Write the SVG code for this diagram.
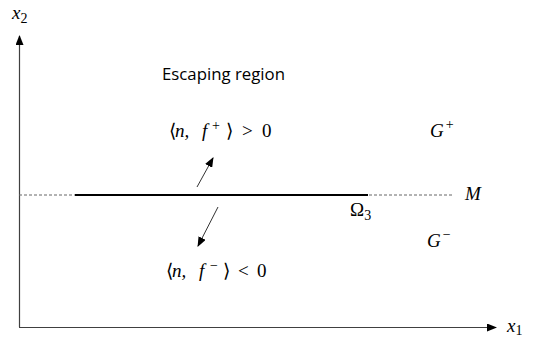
<svg xmlns="http://www.w3.org/2000/svg" width="537" height="339" viewBox="0 0 537 339">
<style>
.math{font-family:"Liberation Serif","DejaVu Serif",serif;font-style:italic;font-size:19px;fill:#000}
.up{font-family:"Liberation Serif","DejaVu Serif",serif;font-style:normal;font-size:19px;fill:#000}
.sup{font-family:"Liberation Serif","DejaVu Serif",serif;font-style:normal;font-size:14px;fill:#000}
.lbl{font-family:"Open Sans","Liberation Sans",sans-serif;font-size:16.5px;fill:#000}
.axis{stroke:#404040;stroke-width:1.2;fill:none}
.arr{stroke:#333;stroke-width:1;fill:none}
</style>
<defs>
<marker id="ah" markerWidth="10" markerHeight="8" refX="9" refY="4" orient="auto" markerUnits="userSpaceOnUse">
<path d="M0,0 L10,4 L0,8 Z" fill="#000"/>
</marker>
</defs>
<rect width="537" height="339" fill="#fff"/>
<g id="connectors">
<line class="axis" x1="19.5" y1="327" x2="19.5" y2="36" marker-end="url(#ah)"/>
<line class="axis" x1="19" y1="327.5" x2="496" y2="327.5" marker-end="url(#ah)"/>
<line x1="19" y1="195" x2="452" y2="195" stroke="#666" stroke-width="1" stroke-dasharray="3,2"/>
<line x1="75" y1="195" x2="368" y2="195" stroke="#000" stroke-width="2"/>
<line class="arr" x1="197" y1="187" x2="213" y2="158" marker-end="url(#ah)"/>
<line class="arr" x1="218" y1="207" x2="198" y2="246" marker-end="url(#ah)"/>
</g>
<g id="x2"><text class="math" x="12" y="19">x<tspan class="sup" dy="4">2</tspan></text></g>
<g id="x1"><text class="math" x="507" y="332">x<tspan class="sup" dy="3">1</tspan></text></g>
<g id="escaping"><text class="lbl" x="162" y="80" textLength="123" lengthAdjust="spacingAndGlyphs">Escaping region</text></g>
<g id="fplus">
<text class="up" x="169" y="137">⟨</text>
<text class="math" x="175" y="137">n,</text>
<text class="math" x="202" y="137">f</text>
<text class="sup" x="212" y="130">+</text>
<text class="up" x="226" y="137">⟩</text>
<text class="up" x="242" y="137">&gt;</text>
<text class="up" x="262" y="137">0</text>
</g>
<g id="fminus">
<text class="up" x="166" y="277">⟨</text>
<text class="math" x="172" y="277">n,</text>
<text class="math" x="199" y="277">f</text>
<text class="sup" x="210" y="270">−</text>
<text class="up" x="223" y="277">⟩</text>
<text class="up" x="238" y="277">&lt;</text>
<text class="up" x="257" y="277">0</text>
</g>
<g id="Gplus"><text class="math" x="430" y="137">G<tspan class="sup" dx="2" dy="-8">+</tspan></text></g>
<g id="Gminus"><text class="math" x="427" y="247">G<tspan class="sup" dx="2" dy="-8">−</tspan></text></g>
<g id="M"><text class="math" x="465" y="200">M</text></g>
<g id="Omega3"><text class="up" x="350" y="216">Ω<tspan class="sup" dy="4">3</tspan></text></g>
</svg>
